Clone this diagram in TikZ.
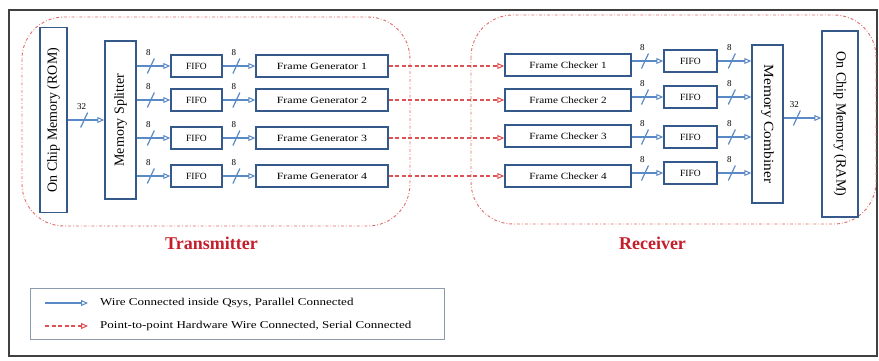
\documentclass[tikz,border=0pt]{standalone}
\usepackage{fontspec}
\setmainfont{Liberation Serif}
\usetikzlibrary{arrows.meta}
\definecolor{boxc}{HTML}{35598A}
\definecolor{wirec}{HTML}{5A8AC6}
\definecolor{serc}{HTML}{E05050}
\definecolor{regc}{HTML}{E06A6A}
\definecolor{labc}{HTML}{C41E2A}
\definecolor{legc}{HTML}{8C9AAE}
\newcommand\xsc[2]{\scalebox{#1}[1]{#2}}
\newcommand\boxfont{\fontsize{9.5}{11}\selectfont}
\newcommand\bigvfont{\fontsize{14}{16}\selectfont}
\tikzset{
  blk/.style={draw=boxc, line width=1.5pt, fill=white, inner sep=0pt, font=\boxfont},
  wire/.style={draw=wirec, line width=1.2pt, -{Triangle[open, length=7pt, width=6pt, line width=1pt]}},
  ser/.style={draw=serc, line width=1.1pt, dash pattern=on 4pt off 2.5pt, -{Triangle[open, length=7pt, width=6pt, line width=1pt]}},
  region/.style={draw=regc, line width=0.9pt, dash pattern=on 3pt off 2pt on 0.8pt off 2pt, rounded corners=42pt},
  bus/.pic={\draw[draw=wirec, line width=1.2pt] (-3.5pt,-7.5pt) -- (3.5pt,7.5pt);
            \node[font=\fontsize{9}{10}\selectfont, inner sep=0pt] at (-2.5pt,13pt) {#1};},
  grp/.style={font=\fontsize{18}{20}\selectfont\bfseries, text=labc, inner sep=0pt},
}
\begin{document}
\begin{tikzpicture}[x=1pt, y=-1pt]
\useasboundingbox (0,0) rectangle (879,360);
% outer frame
\draw[black!75, line width=1.8pt] (9,10) rectangle (877,356);
% regions
\draw[region] (22,17) rectangle (410,226);
\draw[region] (471,15) rectangle (876,224);
% transmitter side
\node[blk, minimum width=27pt, minimum height=185pt, font=\bigvfont] (rom) at (53.5,120) {\rotatebox{90}{On Chip Memory (ROM)}};
\node[blk, minimum width=31pt, minimum height=158pt, font=\bigvfont] (spl) at (120.5,120) {\rotatebox{90}{Memory Splitter}};
\draw[wire] (rom.east) -- coordinate[pos=0.45] (m0) (spl.west);
\pic at (m0) {bus=32};
\foreach \i/\y in {1/66,2/100,3/138,4/176} {
  \node[blk, minimum width=51pt, minimum height=22pt] (tf\i) at (196.5,\y) {FIFO};
  \node[blk, minimum width=132pt, minimum height=22pt] (fg\i) at (322,\y) {\xsc{1.26}{Frame Generator \i}};
  \draw[wire] (spl.east |- tf\i.west) -- coordinate[pos=0.42] (a\i) (tf\i.west);
  \pic at (a\i) {bus=8};
  \draw[wire] (tf\i.east) -- coordinate[pos=0.42] (b\i) (fg\i.west);
  \pic at (b\i) {bus=8};
}
% receiver side
\node[blk, minimum width=31pt, minimum height=158pt, font=\bigvfont] (cmb) at (767.5,124) {\rotatebox{-90}{\xsc{1.1}{Memory Combiner}}};
\node[blk, minimum width=36pt, minimum height=186pt, font=\bigvfont] (ram) at (840,124) {\rotatebox{-90}{On Chip Memory (RAM)}};
\draw[wire] ([yshift=6pt]cmb.east) -- coordinate[pos=0.35] (m9) ([yshift=6pt]ram.west);
\pic at (m9) {bus=32};
\foreach \i/\y/\z in {1/65/61,2/100/97,3/136/137,4/176/173} {
  \node[blk, minimum width=126pt, minimum height=22pt] (ck\i) at (568,\y) {\xsc{1.18}{Frame Checker \i}};
  \node[blk, minimum width=53pt, minimum height=22pt] (rf\i) at (690.5,\z) {FIFO};
  \draw[ser] (fg\i.east) -- (fg\i.east -| ck\i.west);
  \draw[wire] (ck\i.east |- rf\i.west) -- coordinate[pos=0.42] (c\i) (rf\i.west);
  \pic at (c\i) {bus=8};
  \draw[wire] (rf\i.east) -- coordinate[pos=0.42] (d\i) (rf\i.east -| cmb.west);
  \pic at (d\i) {bus=8};
}
% group labels
\node[grp] (tx) at (211.5,243) {Transmitter};
\node[grp] (rx) at (652.5,243) {Receiver};
% legend
\node[draw=legc, line width=0.8pt, minimum width=414pt, minimum height=51pt, inner sep=0pt] (leg) at (237,313.5) {};
\coordinate (l1a) at (45,303);
\coordinate (l1b) at (88,303);
\coordinate (l2a) at (45,326);
\coordinate (l2b) at (88,326);
\draw[wire] (l1a) -- (l1b);
\draw[ser] (l2a) -- (l2b);
\node[anchor=west, inner sep=0pt, font=\fontsize{10.5}{12}\selectfont] (lt1) at (100,303) {\xsc{1.24}{Wire Connected inside Qsys, Parallel Connected}};
\node[anchor=west, inner sep=0pt, font=\fontsize{10.5}{12}\selectfont] (lt2) at (100,326) {\xsc{1.24}{Point-to-point Hardware Wire Connected, Serial Connected}};
\end{tikzpicture}
\end{document}
